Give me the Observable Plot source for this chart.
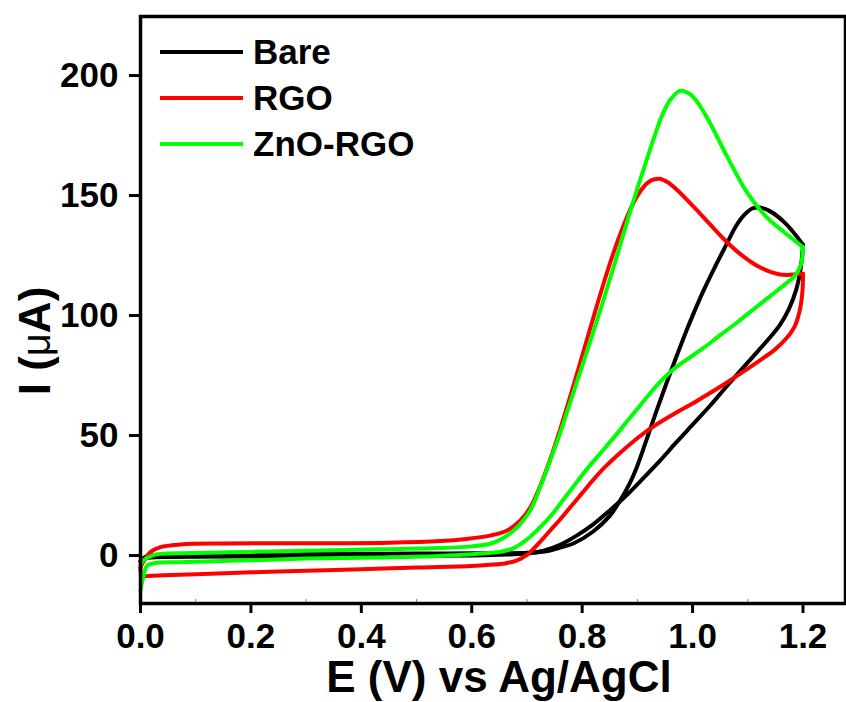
<!DOCTYPE html>
<html>
<head>
<meta charset="utf-8">
<script src="https://cdn.jsdelivr.net/npm/d3@7"></script>
<script src="https://cdn.jsdelivr.net/npm/@observablehq/plot@0.6"></script>
<style>
  html, body { margin: 0; padding: 0; background: #fff; }
  #chart { width: 846px; height: 702px; }
</style>
</head>
<body>
<div id="chart"></div>
<script>
// ---- Data (potential E in V vs Ag/AgCl, current I in µA) ----
const seriesNames = ["Bare", "RGO", "ZnO-RGO"];
const seriesColors = ["#000000", "#ff0000", "#00ff00"];

const bareFwdE = [0.000, 0.005, 0.012, 0.030, 0.10, 0.20, 0.30, 0.40, 0.50, 0.60, 0.70, 0.74, 0.76, 0.784, 0.82, 0.85, 0.869, 0.885, 0.899, 0.917, 0.935, 0.953, 0.971, 0.986, 1.002, 1.020, 1.040, 1.060, 1.078, 1.094, 1.108, 1.120, 1.140, 1.170, 1.200];
const bareFwdI = [-2.5, -1.2, -0.3, 0.2, 0.4, 0.5, 0.6, 0.7, 0.8, 0.9, 1.1, 2.0, 3.3, 5.0, 10.0, 16.5, 23.0, 29.5, 36.8, 48.5, 60.5, 72.0, 83.0, 92.0, 101.0, 110.5, 120.0, 129.0, 137.0, 142.0, 144.6, 145.0, 143.5, 138.0, 129.5];
const bareRevE = [1.200, 1.196, 1.188, 1.175, 1.158, 1.135, 1.110, 1.086, 1.060, 1.032, 1.000, 0.970, 0.941, 0.910, 0.880, 0.851, 0.820, 0.790, 0.760, 0.730, 0.700, 0.650, 0.600, 0.500, 0.400, 0.300, 0.200, 0.100, 0.050, 0.020, 0.008, 0.000];
const bareRevI = [129.5, 120.0, 111.0, 103.0, 96.0, 89.5, 83.0, 76.8, 70.0, 62.5, 54.5, 47.0, 39.5, 32.0, 25.0, 19.0, 13.0, 8.3, 4.5, 2.0, 0.8, 0.3, 0.0, -0.1, -0.2, -0.3, -0.4, -0.5, -0.6, -0.8, -1.3, -2.5];

const rgoFwdE = [0.000, 0.004, 0.009, 0.018, 0.036, 0.072, 0.15, 0.25, 0.35, 0.45, 0.543, 0.59, 0.633, 0.664, 0.688, 0.706, 0.724, 0.742, 0.760, 0.778, 0.796, 0.815, 0.835, 0.855, 0.875, 0.893, 0.911, 0.925, 0.940, 0.955, 0.971, 1.014, 1.056, 1.086, 1.122, 1.158, 1.200];
const rgoFwdI = [-5.0, -3.0, -1.4, 1.4, 3.5, 4.6, 5.0, 5.1, 5.1, 5.3, 6.0, 6.9, 8.3, 10.4, 14.6, 20.0, 29.0, 40.0, 52.5, 66.0, 80.0, 95.0, 110.5, 125.0, 137.5, 147.0, 153.5, 156.3, 157.0, 155.5, 152.5, 142.4, 132.0, 125.7, 120.1, 117.1, 117.4];
const rgoRevE = [1.200, 1.199, 1.194, 1.185, 1.170, 1.150, 1.122, 1.090, 1.060, 1.030, 1.000, 0.970, 0.941, 0.915, 0.890, 0.865, 0.842, 0.820, 0.800, 0.780, 0.760, 0.742, 0.725, 0.712, 0.700, 0.682, 0.660, 0.633, 0.600, 0.500, 0.400, 0.300, 0.200, 0.100, 0.042, 0.015, 0.006, 0.001, 0.000];
const rgoRevI = [117.4, 110.0, 102.0, 95.5, 90.5, 86.0, 81.3, 76.3, 71.8, 67.5, 63.3, 59.5, 55.5, 51.5, 47.0, 42.0, 37.0, 31.5, 26.0, 20.5, 15.0, 10.4, 6.0, 2.8, 0.3, -2.0, -3.3, -3.9, -4.4, -5.0, -5.7, -6.4, -7.0, -7.8, -8.2, -8.5, -8.6, -7.5, -5.0];

const znoFwdE = [0.000, 0.005, 0.015, 0.030, 0.10, 0.20, 0.30, 0.43, 0.54, 0.60, 0.633, 0.655, 0.676, 0.691, 0.706, 0.724, 0.742, 0.760, 0.780, 0.800, 0.820, 0.840, 0.860, 0.880, 0.900, 0.915, 0.930, 0.945, 0.960, 0.977, 0.995, 1.010, 1.032, 1.062, 1.098, 1.134, 1.170, 1.200];
const znoFwdI = [-4.0, -2.0, -0.7, 0.5, 1.0, 1.5, 2.0, 2.6, 3.1, 3.8, 4.9, 7.0, 10.4, 14.0, 18.8, 28.5, 39.5, 51.0, 65.0, 79.0, 93.0, 107.5, 122.5, 138.0, 153.0, 163.5, 174.0, 183.5, 190.0, 193.6, 192.3, 188.5, 180.0, 166.5, 151.5, 141.0, 134.0, 128.5];
const znoRevE = [1.200, 1.196, 1.185, 1.170, 1.140, 1.110, 1.080, 1.050, 1.020, 0.995, 0.975, 0.955, 0.930, 0.905, 0.880, 0.855, 0.830, 0.805, 0.785, 0.765, 0.745, 0.724, 0.706, 0.690, 0.675, 0.655, 0.630, 0.600, 0.540, 0.430, 0.300, 0.200, 0.100, 0.072, 0.024, 0.012, 0.005, 0.002, 0.000];
const znoRevI = [128.5, 121.0, 116.5, 113.5, 108.0, 102.5, 97.0, 91.8, 86.5, 82.5, 79.3, 75.5, 69.5, 62.5, 55.5, 48.5, 41.8, 35.0, 29.0, 23.0, 17.0, 11.8, 7.8, 5.0, 3.0, 1.7, 1.0, 0.5, -0.2, -0.8, -1.3, -2.0, -2.6, -2.8, -3.2, -4.2, -9.0, -12.0, -14.6];

const xTicks = [0.0, 0.2, 0.4, 0.6, 0.8, 1.0, 1.2];
const xMinorTicks = [0.1, 0.3, 0.5, 0.7, 0.9, 1.1];
const yTicks = [0, 50, 100, 150, 200];
const xLabel = "E (V) vs Ag/AgCl";

// ---- Build table ----
const segments = [
  ["Bare", "fwd", bareFwdE, bareFwdI], ["Bare", "rev", bareRevE, bareRevI],
  ["RGO", "fwd", rgoFwdE, rgoFwdI], ["RGO", "rev", rgoRevE, rgoRevI],
  ["ZnO-RGO", "fwd", znoFwdE, znoFwdI], ["ZnO-RGO", "rev", znoRevE, znoRevI]
];
const rows = [];
for (const [name, dir, E, I] of segments) {
  E.forEach((e, i) => rows.push({E: e, I: I[i], series: name, seg: name + "-" + dir}));
}

const font = "'Liberation Sans', Arial, Helvetica, sans-serif";

const svg = Plot.plot({
  width: 846,
  height: 702,
  marginLeft: 140,
  marginRight: 1,
  marginTop: 16,
  marginBottom: 99,
  style: {fontFamily: font, fontWeight: "bold", background: "#fff", overflow: "visible"},
  x: {domain: [0, 1.277]},
  y: {domain: [-20, 224.6]},
  color: {domain: seriesNames, range: seriesColors},
  marks: [
    Plot.axisX(xMinorTicks, {tickSize: -4, tickFormat: () => "", stroke: "#888", strokeWidth: 1, label: null}),
    Plot.axisX(xTicks, {tickSize: 10, tickPadding: 10, tickFormat: d3.format(".1f"), fontSize: 35, strokeWidth: 3, label: null}),
    Plot.axisY(yTicks, {tickSize: 11, tickPadding: 11, fontSize: 35, strokeWidth: 3, label: null}),
    Plot.line(rows, {x: "E", y: "I", z: "seg", stroke: "series", strokeWidth: 4, curve: "catmull-rom"}),
    Plot.frame({stroke: "#000", strokeWidth: 3.5})
  ]
});

const s = d3.select(svg);

// Axis titles
s.append("text")
  .attr("x", 499).attr("y", 692)
  .attr("text-anchor", "middle")
  .style("font-family", font).style("font-weight", "bold").style("font-size", "44px")
  .attr("fill", "#000")
  .text(xLabel);

const yl = s.append("text")
  .attr("transform", "translate(50,341) rotate(-90)")
  .attr("text-anchor", "middle")
  .style("font-family", font).style("font-weight", "bold").style("font-size", "44px")
  .attr("fill", "#000");
yl.append("tspan").text("I (");
yl.append("tspan").style("font-weight", "normal").style("font-size", "40px").text("\u03bc");
yl.append("tspan").text("A)");

// Legend
const lg = s.append("g");
seriesNames.forEach((name, i) => {
  const y = 52 + i * 46;
  lg.append("line").attr("x1", 160).attr("x2", 243).attr("y1", y).attr("y2", y)
    .attr("stroke", seriesColors[i]).attr("stroke-width", 4);
  lg.append("text").attr("x", 253).attr("y", y + 12)
    .attr("text-anchor", "start")
    .style("font-family", font).style("font-weight", "bold").style("font-size", "35px")
    .attr("fill", "#000").text(name);
});

document.getElementById("chart").appendChild(svg);
</script>
</body>
</html>
